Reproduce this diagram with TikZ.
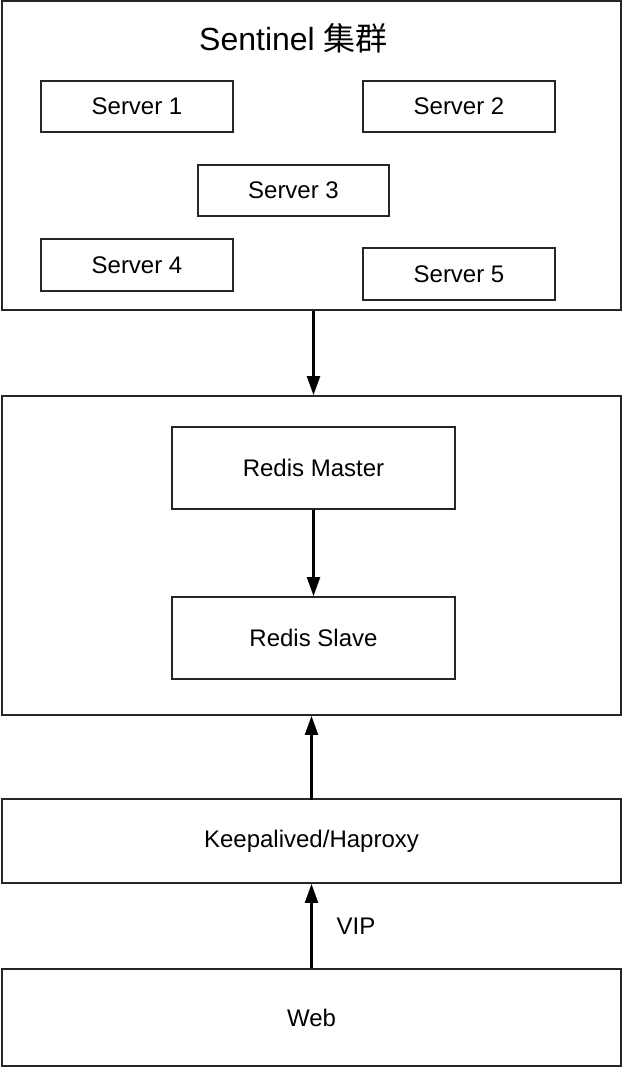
\documentclass[tikz,border=0pt]{standalone}
\usepackage{fontspec}
\setmainfont{Liberation Sans}
\newfontfamily\cjk{Noto Sans CJK SC}
\usetikzlibrary{arrows.meta}
\begin{document}
\begin{tikzpicture}[x=1pt,y=-1pt,
  box/.style={draw=black!85,line width=1.8pt,inner sep=0pt,font=\fontsize{24}{28}\selectfont},
  arr/.style={line width=2.2pt,draw=black,-{Triangle[width=13pt,length=19pt]}},
  lbl/.style={font=\fontsize{24}{28}\selectfont,inner sep=0pt}]
\useasboundingbox (0,0) rectangle (622,1068);
\node[box,minimum width=619pt,minimum height=309pt] (sentinel) at (311.5,155.5) {};
\node[lbl,font=\fontsize{32}{36}\selectfont] (title) at (293.5,38) {Sentinel {\cjk 集群}};
\node[box,minimum width=192pt,minimum height=51pt] (s1) at (137,106.5) {Server 1};
\node[box,minimum width=192pt,minimum height=51pt] (s2) at (459,106.5) {Server 2};
\node[box,minimum width=191pt,minimum height=51pt] (s3) at (293.5,190.5) {Server 3};
\node[box,minimum width=192pt,minimum height=52pt] (s4) at (137,265) {Server 4};
\node[box,minimum width=192pt,minimum height=52pt] (s5) at (459,274) {Server 5};
\node[box,minimum width=619pt,minimum height=319pt] (redis) at (311.5,555.5) {};
\node[box,minimum width=283pt,minimum height=82pt] (master) at (313.5,468) {Redis Master};
\node[box,minimum width=283pt,minimum height=82pt] (slave) at (313.5,638) {Redis Slave};
\node[box,minimum width=619pt,minimum height=84pt] (keep) at (311.5,841) {Keepalived/Haproxy};
\node[box,minimum width=619pt,minimum height=97pt] (web) at (311.5,1017.5) {Web};
\draw[arr] (sentinel.south -| master) -- (redis.north -| master);
\draw[arr] (master) -- (slave);
\draw[arr] ([yshift=-2pt]keep.north) -- (redis.south);
\draw[arr] (web.north) -- node[lbl,right=24pt] (vip) {VIP} (keep.south);
\end{tikzpicture}
\end{document}
